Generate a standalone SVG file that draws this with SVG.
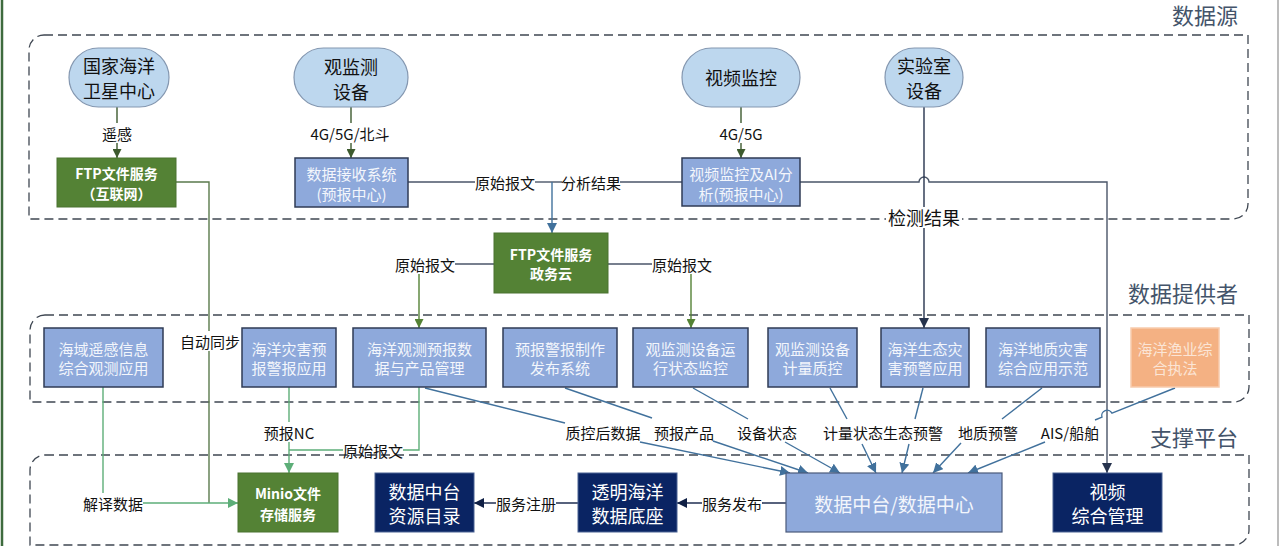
<svg xmlns="http://www.w3.org/2000/svg" width="1280" height="546" viewBox="0 0 1280 546">
<style>
text { font-family: "Noto Sans CJK SC", "Noto Sans", sans-serif; dominant-baseline: central; text-anchor: middle; }
.sec { font-size: 22px; fill: #44546A; text-anchor: end; }
.grp { fill: none; stroke: #3F4752; stroke-width: 1.3; stroke-dasharray: 9 5; }
.stad { fill: #BDD7EE; stroke: #8497B0; stroke-width: 1.2; }
.st { font-size: 18px; fill: #111; }
.gbox { fill: #548235; stroke: #4A7230; stroke-width: 1; }
.gt { font-size: 14px; font-weight: bold; fill: #fff; }
.bbox { fill: #8EA9DB; stroke: #2F3B55; stroke-width: 1.5; }
.bt { font-size: 15px; fill: #F3F6FC; }
.obox { fill: #F4B183; stroke: #F8CBAD; stroke-width: 1.5; }
.ot { font-size: 15px; fill: #FBE5D6; }
.nbox { fill: #0A2463; stroke: #4A6294; stroke-width: 1; }
.nt { font-size: 18px; fill: #fff; }
.mbt { font-size: 19px; fill: #F3F6FC; }
.lbl { font-size: 15px; fill: #111; }
.ln { fill: none; stroke-width: 1.4; }
.c-dg { stroke: #3D5A2E; }
.c-g { stroke: #548235; }
.c-lg { stroke: #5DAE78; }
.c-olive { stroke: #5A7A4C; }
.c-b { stroke: #41719C; }
.c-gray { stroke: #4A5568; }
.c-nv { stroke: #26334D; }
.c-dk { stroke: #0F1F45; }
</style>
<defs>
<marker id="a-dg" viewBox="0 0 10 10" refX="10" refY="5" markerWidth="9" markerHeight="9" markerUnits="userSpaceOnUse" orient="auto"><path d="M0,0 L10,5 L0,10 z" fill="#3D5A2E"/></marker>
<marker id="a-g" viewBox="0 0 10 10" refX="10" refY="5" markerWidth="9" markerHeight="9" markerUnits="userSpaceOnUse" orient="auto"><path d="M0,0 L10,5 L0,10 z" fill="#548235"/></marker>
<marker id="a-lg" viewBox="0 0 10 10" refX="10" refY="5" markerWidth="10" markerHeight="10" markerUnits="userSpaceOnUse" orient="auto"><path d="M0,0 L10,5 L0,10 z" fill="#5DAE78"/></marker>
<marker id="a-b" viewBox="0 0 10 10" refX="10" refY="5" markerWidth="10" markerHeight="10" markerUnits="userSpaceOnUse" orient="auto"><path d="M0,0 L10,5 L0,10 z" fill="#41719C"/></marker>
<marker id="a-nv" viewBox="0 0 10 10" refX="10" refY="5" markerWidth="10" markerHeight="10" markerUnits="userSpaceOnUse" orient="auto"><path d="M0,0 L10,5 L0,10 z" fill="#26334D"/></marker>
<marker id="a-dk" viewBox="0 0 10 10" refX="10" refY="5" markerWidth="10" markerHeight="10" markerUnits="userSpaceOnUse" orient="auto"><path d="M0,0 L10,5 L0,10 z" fill="#0F1F45"/></marker>
</defs>
<rect x="0" y="0" width="1280" height="546" fill="#fff"/>
<line x1="2" y1="0" x2="2" y2="546" stroke="#3E6B3E" stroke-width="2.5"/>
<line x1="1278" y1="0" x2="1278" y2="546" stroke="#A6A6A6" stroke-width="1.5"/>

<g id="groups">
<path class="grp" d="M44,35 H1248 V204 A15,15 0 0 1 1233,219 H29 V50 A15,15 0 0 1 44,35 Z"/>
<text class="sec" x="1238" y="14">数据源</text>
<path class="grp" d="M45,315 H1249 V387 A15,15 0 0 1 1234,402 H30 V330 A15,15 0 0 1 45,315 Z"/>
<text class="sec" x="1238" y="292">数据提供者</text>
<path class="grp" d="M45,455 H1249 V530 A15,15 0 0 1 1234,545 H30 V470 A15,15 0 0 1 45,455 Z"/>
<text class="sec" x="1238" y="436">支撑平台</text>
</g>

<g id="connectors">
<path class="ln c-dg" d="M117,107 V123"/>
<text class="lbl" x="117" y="133">遥感</text>
<path class="ln c-dg" d="M117,143 V158" marker-end="url(#a-dg)"/>
<path class="ln c-dg" d="M351,107 V123"/>
<text class="lbl" x="350" y="133">4G/5G/北斗</text>
<path class="ln c-dg" d="M351,143 V158" marker-end="url(#a-dg)"/>
<path class="ln c-dg" d="M741,107 V123"/>
<text class="lbl" x="741" y="133">4G/5G</text>
<path class="ln c-dg" d="M741,143 V158" marker-end="url(#a-dg)"/>

<path class="ln c-gray" d="M408,182 H475"/>
<text class="lbl" x="505" y="182">原始报文</text>
<path class="ln c-gray" d="M535,182 H562"/>
<text class="lbl" x="591" y="182">分析结果</text>
<path class="ln c-gray" d="M620,182 H682"/>
<path class="ln c-b" d="M552,182 V233" stroke-width="1.8" marker-end="url(#a-b)"/>

<path class="ln c-gray" d="M800,182 H919 A5,5 0 0 1 929,182 H1107 V473" marker-end="url(#a-nv)"/>

<path class="ln c-nv" d="M924,107 V207" stroke-width="1.8"/>
<rect x="886" y="207" width="76" height="20" fill="#fff"/>
<text x="924" y="217" style="font-size:18px;fill:#111">检测结果</text>
<path class="ln c-nv" d="M924,228 V328" stroke-width="1.8" marker-end="url(#a-nv)"/>

<path class="ln c-gray" d="M494,264 H455"/>
<text class="lbl" x="425" y="264">原始报文</text>
<path class="ln c-g" d="M419,274 V328" stroke-width="1.8" marker-end="url(#a-g)"/>
<path class="ln c-gray" d="M608,264 H652"/>
<text class="lbl" x="682" y="264">原始报文</text>
<path class="ln c-g" d="M691,274 V328" stroke-width="1.8" marker-end="url(#a-g)"/>

<path class="ln c-olive" d="M176,182 H209 V331"/>
<text class="lbl" x="210" y="341">自动同步</text>
<path class="ln c-olive" d="M209,351 V503"/>

<path class="ln c-lg" d="M103,387 V493" stroke-width="1.8"/>
<text class="lbl" x="113" y="503">解译数据</text>
<path class="ln c-lg" d="M143,503 H238" stroke-width="1.8" marker-end="url(#a-lg)"/>

<path class="ln c-lg" d="M289,387 V422" stroke-width="1.8"/>
<text class="lbl" x="289" y="432">预报NC</text>
<path class="ln c-lg" d="M289,442 V473" stroke-width="1.8" marker-end="url(#a-lg)"/>
<path class="ln c-lg" d="M419,387 V450 H403" stroke-width="1.8"/>
<text class="lbl" x="373" y="450">原始报文</text>
<path class="ln c-lg" d="M343,450 H289" stroke-width="1.8"/>

<path class="ln c-b" d="M425,388 L565,423"/>
<text class="lbl" x="603" y="432">质控后数据</text>
<path class="ln c-b" d="M640,442 L790,473" marker-end="url(#a-b)"/>
<path class="ln c-b" d="M565,388 L652,418"/>
<text class="lbl" x="684" y="432">预报产品</text>
<path class="ln c-b" d="M713,441 L808,473" marker-end="url(#a-b)"/>
<path class="ln c-b" d="M693,388 L748,419"/>
<text class="lbl" x="767" y="432">设备状态</text>
<path class="ln c-b" d="M785,442 L840,473" marker-end="url(#a-b)"/>
<path class="ln c-b" d="M830,388 L847,419"/>
<text class="lbl" x="853" y="432">计量状态</text>
<path class="ln c-b" d="M862,444 L876,473" marker-end="url(#a-b)"/>
<path class="ln c-b" d="M923,388 L915,419"/>
<text class="lbl" x="913" y="432">生态预警</text>
<path class="ln c-b" d="M909,444 L902,473" marker-end="url(#a-b)"/>
<path class="ln c-b" d="M1042,388 L1002,419"/>
<text class="lbl" x="988" y="432">地质预警</text>
<path class="ln c-b" d="M961,443 L933,473" marker-end="url(#a-b)"/>
<path class="ln c-b" d="M1175,388 L1112,413.2 A5.4,5.4 0 0 0 1102,417.2 L1095,420"/>
<text class="lbl" x="1070" y="432">AIS/船舶</text>
<path class="ln c-b" d="M1045,442 L968,473" marker-end="url(#a-b)"/>

<path class="ln c-dk" d="M578,503 H556"/>
<text class="lbl" x="526" y="503">服务注册</text>
<path class="ln c-dk" d="M496,503 H474" marker-end="url(#a-dk)"/>
<path class="ln c-dk" d="M786,503 H762"/>
<text class="lbl" x="732" y="503">服务发布</text>
<path class="ln c-dk" d="M702,503 H677" marker-end="url(#a-dk)"/>
</g>

<g id="n-satellite">
<rect class="stad" x="69" y="48" width="100" height="59" rx="29.5"/>
<text class="st" x="119" y="65">国家海洋</text>
<text class="st" x="119" y="90">卫星中心</text>
</g>
<g id="n-obsdev">
<rect class="stad" x="294" y="48" width="114" height="59" rx="29.5"/>
<text class="st" x="351" y="66">观监测</text>
<text class="st" x="351" y="91">设备</text>
</g>
<g id="n-video">
<rect class="stad" x="682" y="48" width="118" height="59" rx="29.5"/>
<text class="st" x="741" y="77">视频监控</text>
</g>
<g id="n-lab">
<rect class="stad" x="885" y="48" width="78" height="59" rx="29.5"/>
<text class="st" x="924" y="65">实验室</text>
<text class="st" x="924" y="90">设备</text>
</g>

<g id="n-ftp-internet">
<rect class="gbox" x="57" y="158" width="119" height="49"/>
<text class="gt" x="116.5" y="173">FTP文件服务</text>
<text class="gt" x="116.5" y="193">（互联网）</text>
</g>
<g id="n-recv">
<rect class="bbox" x="295" y="158" width="113" height="49"/>
<text class="bt" x="351.5" y="173">数据接收系统</text>
<text class="bt" x="351.5" y="193">(预报中心)</text>
</g>
<g id="n-videoai">
<rect class="bbox" x="682" y="158" width="118" height="48"/>
<text class="bt" x="741" y="173">视频监控及AI分</text>
<text class="bt" x="741" y="193">析(预报中心)</text>
</g>
<g id="n-ftp-gov">
<rect class="gbox" x="494" y="233" width="114" height="60"/>
<text class="gt" x="551" y="254">FTP文件服务</text>
<text class="gt" x="551" y="273">政务云</text>
</g>

<g id="n-p1">
<rect class="bbox" x="44" y="328" width="119" height="59"/>
<text class="bt" x="103.5" y="348">海域遥感信息</text>
<text class="bt" x="103.5" y="367">综合观测应用</text>
</g>
<g id="n-p2">
<rect class="bbox" x="242" y="328" width="94" height="59"/>
<text class="bt" x="289" y="348">海洋灾害预</text>
<text class="bt" x="289" y="367">报警报应用</text>
</g>
<g id="n-p3">
<rect class="bbox" x="353" y="328" width="133" height="59"/>
<text class="bt" x="419.5" y="348">海洋观测预报数</text>
<text class="bt" x="419.5" y="367">据与产品管理</text>
</g>
<g id="n-p4">
<rect class="bbox" x="503" y="328" width="114" height="59"/>
<text class="bt" x="560" y="348">预报警报制作</text>
<text class="bt" x="560" y="367">发布系统</text>
</g>
<g id="n-p5">
<rect class="bbox" x="633" y="328" width="115" height="59"/>
<text class="bt" x="690.5" y="348">观监测设备运</text>
<text class="bt" x="690.5" y="367">行状态监控</text>
</g>
<g id="n-p6">
<rect class="bbox" x="768" y="328" width="89" height="59"/>
<text class="bt" x="812.5" y="348">观监测设备</text>
<text class="bt" x="812.5" y="367">计量质控</text>
</g>
<g id="n-p7">
<rect class="bbox" x="881" y="328" width="88" height="59"/>
<text class="bt" x="925" y="348">海洋生态灾</text>
<text class="bt" x="925" y="367">害预警应用</text>
</g>
<g id="n-p8">
<rect class="bbox" x="986" y="328" width="114" height="59"/>
<text class="bt" x="1043" y="348">海洋地质灾害</text>
<text class="bt" x="1043" y="367">综合应用示范</text>
</g>
<g id="n-p9">
<rect class="obox" x="1131" y="328" width="88" height="59"/>
<text class="ot" x="1175" y="348">海洋渔业综</text>
<text class="ot" x="1175" y="367">合执法</text>
</g>

<g id="n-minio">
<rect class="gbox" x="238" y="473" width="100" height="59"/>
<text class="gt" x="288" y="493">Minio文件</text>
<text class="gt" x="288" y="514">存储服务</text>
</g>
<g id="n-catalog">
<rect class="nbox" x="375" y="473" width="99" height="59"/>
<text class="nt" x="424.5" y="491">数据中台</text>
<text class="nt" x="424.5" y="515">资源目录</text>
</g>
<g id="n-base">
<rect class="nbox" x="578" y="473" width="99" height="59"/>
<text class="nt" x="627.5" y="491">透明海洋</text>
<text class="nt" x="627.5" y="515">数据底座</text>
</g>
<g id="n-center">
<rect class="bbox" x="786" y="473" width="216" height="59" style="stroke:#4A5A7A;stroke-width:1.2"/>
<text class="mbt" x="894" y="503">数据中台/数据中心</text>
</g>
<g id="n-videomgmt">
<rect class="nbox" x="1053" y="473" width="109" height="59"/>
<text class="nt" x="1107.5" y="491">视频</text>
<text class="nt" x="1107.5" y="515">综合管理</text>
</g>
</svg>
